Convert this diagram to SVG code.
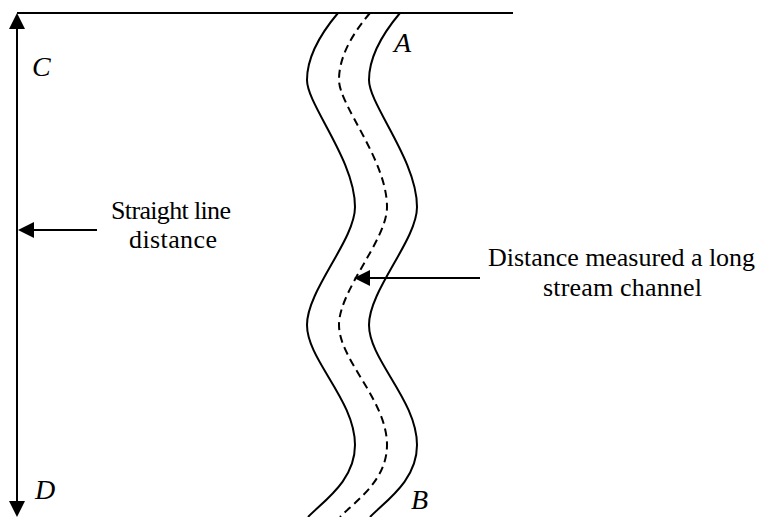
<svg xmlns="http://www.w3.org/2000/svg" width="763" height="517" viewBox="0 0 763 517">
<style>
.ln{stroke:#000;stroke-width:2;fill:none}
.bank{stroke:#000;stroke-width:2;fill:none}
.mid{stroke:#000;stroke-width:2;fill:none;stroke-dasharray:8 5}
.lbl{font-family:"Liberation Serif","Times New Roman",serif;font-size:26px;fill:#000}
.pt{font-family:"Liberation Serif","Times New Roman",serif;font-size:28px;font-style:italic;fill:#000}
</style>
<defs>
<marker id="ah" viewBox="0 0 16 16" refX="14" refY="8" markerWidth="16" markerHeight="16" markerUnits="userSpaceOnUse" orient="auto-start-reverse">
<path d="M0,0 L16,8 L0,16 z" fill="#000"/>
</marker>
<path id="bankpath" d="M338,13 C322,32 307,55 307,80 C307,105 355,160 355,207 C355,240 307,290 307,325 C307,360 355,400 355,445 C355,480 325,500 308,517"/>
</defs>
<g id="river">
<use href="#bankpath" class="bank"/>
<use href="#bankpath" class="mid" transform="translate(32,0)"/>
<use href="#bankpath" class="bank" transform="translate(62,0)"/>
</g>
<g id="connectors">
<line class="ln" x1="17" y1="13" x2="513" y2="13"/>
<line class="ln" x1="17" y1="15" x2="17" y2="515" marker-start="url(#ah)" marker-end="url(#ah)"/>
<line class="ln" x1="97" y1="230" x2="20" y2="230" marker-end="url(#ah)"/>
<line class="ln" x1="480" y1="278" x2="356" y2="278" marker-end="url(#ah)"/>
</g>
<g id="label-C"><text class="pt" x="32" y="76">C</text></g>
<g id="label-D"><text class="pt" x="35" y="499">D</text></g>
<g id="label-A"><text class="pt" x="394" y="52">A</text></g>
<g id="label-B"><text class="pt" x="411" y="509">B</text></g>
<g id="label-straight">
<text class="lbl" x="111" y="219" textLength="120" lengthAdjust="spacing">Straight line</text>
<text class="lbl" x="129" y="248" textLength="88" lengthAdjust="spacing">distance</text>
</g>
<g id="label-stream">
<text class="lbl" x="488" y="266" textLength="267" lengthAdjust="spacing">Distance measured a long</text>
<text class="lbl" x="543" y="296" textLength="159" lengthAdjust="spacing">stream channel</text>
</g>
</svg>
